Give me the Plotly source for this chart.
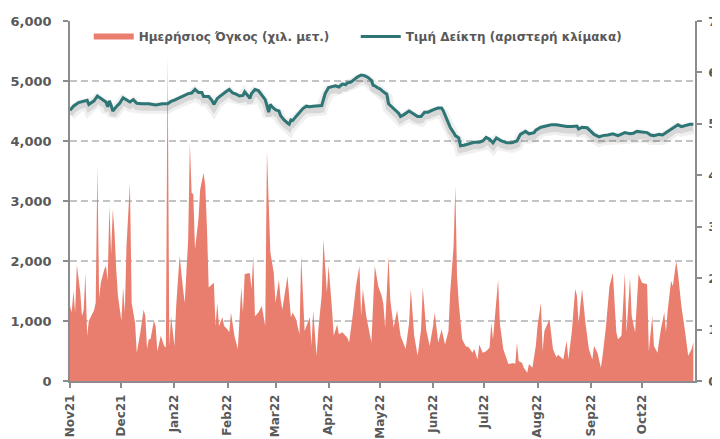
import pandas as pd
import plotly.graph_objects as go

START = "2021-11-01"

# Daily volume (right scale): day offset from START, value
vol_day = [0, 1, 2, 3, 4, 6, 7, 8, 9, 10, 11, 14, 15, 16, 17, 18, 20, 21, 22, 23, 24, 25, 26, 27, 28,
           30, 31, 32, 33, 35, 36, 38, 39, 41, 43, 44, 45, 46, 47, 49, 50, 51, 53, 55, 56, 57, 58, 59,
           61, 62, 64, 66, 67, 69, 70, 71, 72, 73, 75, 76, 78, 79, 80, 81, 83, 84, 85, 86, 87, 89, 90,
           92, 93, 94, 96, 98, 100, 101, 102, 105, 106, 107, 108, 110, 112, 114, 115, 117, 119, 120,
           122, 123, 124, 127, 129, 130, 132, 134, 135, 137, 140, 141, 142, 144, 145, 147, 148, 150,
           151, 153, 154, 156, 157, 159, 162, 163, 165, 167, 169, 170, 171, 173, 176, 178, 180, 182,
           183, 184, 186, 187, 189, 191, 193, 196, 198, 199, 201, 203, 205, 206, 208, 210, 212, 213,
           215, 217, 219, 221, 222, 224, 225, 226, 227, 229, 231, 233, 235, 236, 238, 239, 241, 243,
           245, 246, 247, 250, 251, 253, 256, 259, 260, 261, 262, 264, 265, 267, 268, 270, 272, 273,
           275, 276, 277, 280, 282, 284, 285, 288, 290, 291, 293, 295, 296, 297, 299, 301, 303, 305,
           306, 308, 310, 311, 313, 315, 317, 319, 320, 322, 324, 325, 327, 328, 330, 332, 334, 337,
           338, 340, 341, 343, 345, 347, 348, 349, 351, 352, 354, 355, 357, 359, 361, 363, 364]
vol_value = [1.46, 1.33, 1.75, 1.33, 2.26, 1.72, 1.26, 1.39, 2.10, 0.88, 1.17, 1.37, 1.52, 4.18, 1.62,
             1.91, 2.17, 2.24, 1.95, 3.41, 2.46, 3.34, 2.88, 2.17, 1.66, 1.17, 1.82, 1.33, 2.63, 3.85,
             1.52, 1.13, 0.55, 0.93, 1.39, 1.26, 0.62, 0.81, 0.81, 1.17, 1.07, 0.58, 0.88, 0.68, 0.65, 6.30,
             0.68, 1.26, 0.68, 1.46, 2.43, 1.79, 1.52, 2.75, 4.63, 3.66, 3.63, 2.56, 3.14, 3.72, 4.05,
             3.79, 2.95, 1.82, 1.88, 1.91, 1.07, 1.52, 1.07, 1.24, 1.07, 1.00, 0.95, 1.33, 0.88, 0.62,
             1.82, 1.33, 2.08, 2.10, 1.79, 2.43, 1.26, 1.33, 1.46, 1.07, 4.47, 2.50, 2.10, 1.52, 1.97,
             1.59, 1.39, 2.04, 1.24, 1.33, 1.20, 0.91, 2.43, 0.97, 1.24, 0.68, 1.37, 0.49, 1.00, 1.68,
             2.75, 1.72, 2.24, 1.39, 0.88, 1.10, 0.91, 0.95, 0.84, 0.75, 1.26, 1.84, 2.24, 1.26, 1.79, 1.26,
             0.75, 2.24, 1.84, 1.66, 1.49, 1.04, 2.43, 1.59, 1.04, 1.37, 0.88, 0.62, 1.13, 1.79, 0.88, 0.49,
             1.00, 1.82, 1.00, 0.68, 1.07, 1.33, 0.75, 1.00, 0.71, 0.97, 1.72, 2.63, 3.79, 2.04, 1.52, 0.81,
             0.68, 0.65, 0.55, 0.62, 0.42, 0.71, 0.55, 0.58, 0.65, 1.13, 0.81, 1.97, 1.13, 0.62, 0.33, 0.35, 0.33,
             0.75, 0.39, 0.35, 0.26, 0.16, 0.33, 0.26, 0.68, 1.07, 1.52, 0.58, 0.97, 1.20, 0.62, 0.46, 0.51, 0.42,
             0.78, 0.42, 0.95, 1.79, 1.66, 1.13, 1.79, 1.13, 0.62, 0.42, 0.68, 0.55, 0.26, 0.49, 1.07, 1.84,
             2.10, 0.95, 0.81, 0.88, 2.10, 0.95, 2.01, 1.26, 0.95, 2.08, 1.91, 1.88, 0.58, 1.26, 0.68, 0.55,
             1.00, 1.33, 0.95, 1.37, 1.95, 1.84, 2.33, 2.10, 1.46, 1.00, 0.49, 0.62, 0.75]

# Index value (left scale)
idx_day = [0, 2, 5, 8, 10, 11, 12, 14, 16, 19, 21, 22, 23, 24, 25, 27, 29, 31, 33, 35, 37, 39, 42, 46,
           50, 54, 57, 59, 61, 63, 66, 69, 71, 73, 75, 77, 78, 81, 83, 84, 86, 88, 91, 93, 95, 97, 99,
           101, 102, 104, 105, 106, 108, 110, 112, 114, 115, 116, 117, 118, 120, 122, 123, 125, 127,
           128, 129, 130, 132, 134, 136, 138, 140, 142, 145, 147, 148, 149, 151, 153, 155, 157, 159,
           161, 162, 164, 166, 168, 170, 172, 174, 176, 177, 178, 180, 181, 183, 185, 186, 188, 190,
           192, 193, 195, 198, 201, 203, 205, 207, 209, 211, 213, 215, 217, 218, 220, 222, 224, 225,
           227, 228, 230, 233, 236, 239, 241, 243, 245, 247, 249, 252, 255, 258, 261, 263, 266, 268,
           271, 272, 275, 278, 281, 284, 287, 290, 293, 296, 297, 299, 302, 304, 306, 309, 311, 314,
           317, 320, 322, 324, 327, 329, 331, 334, 337, 339, 341, 344, 346, 349, 351, 353, 355, 357,
           360, 362, 364]
idx_value = [4510, 4580, 4640, 4670, 4680, 4610, 4630, 4670, 4750, 4690, 4650, 4570, 4670, 4590, 4500,
             4570, 4630, 4720, 4680, 4650, 4690, 4630, 4620, 4620, 4600, 4620, 4620, 4660, 4680, 4710,
             4750, 4790, 4800, 4860, 4810, 4810, 4740, 4740, 4670, 4610, 4710, 4760, 4820, 4860, 4800,
             4780, 4750, 4760, 4820, 4750, 4710, 4790, 4860, 4840, 4760, 4690, 4590, 4480, 4610, 4570,
             4520, 4500, 4420, 4350, 4300, 4280, 4350, 4340, 4410, 4480, 4540, 4580, 4570, 4580, 4580,
             4590, 4690, 4790, 4890, 4900, 4920, 4900, 4950, 4940, 4970, 4980, 5030, 5070, 5100, 5090,
             5060, 5010, 4930, 4920, 4880, 4870, 4820, 4780, 4620, 4570, 4520, 4460, 4410, 4440, 4500,
             4440, 4410, 4410, 4480, 4480, 4510, 4530, 4550, 4550, 4500, 4370, 4230, 4140, 4090, 4050,
             3920, 3930, 3960, 3980, 3980, 4000, 4060, 4030, 3970, 4050, 4000, 3970, 3970, 4000, 4110,
             4160, 4120, 4140, 4180, 4230, 4250, 4270, 4270, 4250, 4240, 4240, 4250, 4200, 4230, 4220,
             4160, 4110, 4070, 4090, 4100, 4120, 4090, 4110, 4140, 4120, 4130, 4160, 4150, 4140, 4100,
             4090, 4110, 4100, 4160, 4200, 4240, 4270, 4240, 4270, 4280, 4280]

vol_name = "Ημερήσιος Όγκος (χιλ. μετ.)"
idx_name = "Τιμή Δείκτη (αριστερή κλίμακα)"

start = pd.Timestamp(START)
vol_dates = start + pd.to_timedelta(vol_day, unit="D")
idx_dates = start + pd.to_timedelta(idx_day, unit="D")

GREY = "#595959"
AXIS = "#8C8C8C"
TICKFONT = dict(family="DejaVu Sans", size=13, color=GREY, weight="bold")
XTICKFONT = dict(family="DejaVu Sans", size=12, color=GREY, weight="bold")

fig = go.Figure()
fig.add_trace(go.Scatter(x=vol_dates, y=vol_value, name=vol_name, mode="none",
                         fill="tozeroy", fillcolor="#E97E6E", yaxis="y"))
# soft drop shadow under the index line
fig.add_trace(go.Scatter(x=idx_dates, y=idx_value, mode="lines", showlegend=False,
                         hoverinfo="skip", line=dict(color="rgba(0,0,0,0.06)", width=12),
                         yaxis="y2"))
fig.add_trace(go.Scatter(x=idx_dates, y=idx_value, mode="lines", showlegend=False,
                         hoverinfo="skip", line=dict(color="rgba(0,0,0,0.10)", width=6),
                         yaxis="y2"))
fig.add_trace(go.Scatter(x=idx_dates, y=idx_value, name=idx_name, mode="lines",
                         line=dict(color="#2E7576", width=3), yaxis="y3"))

fig.update_layout(
    width=720, height=439,
    margin=dict(l=62, r=33, t=13, b=66, autoexpand=False),
    paper_bgcolor="white", plot_bgcolor="white",
    showlegend=True,
    legend=dict(orientation="h", x=0.03, xanchor="left", y=0.997, yanchor="top",
                font=dict(family="DejaVu Sans", size=12, color=GREY, weight="bold"),
                bgcolor="rgba(255,255,255,0)", itemwidth=40,
                entrywidth=212, entrywidthmode="pixels"),
    xaxis=dict(type="date", range=["2021-11-01", "2022-10-31 23:00"], dtick="M1",
               tick0="2021-11-01", tickformat="%b%y", tickangle=-90, automargin=False,
               showgrid=False, showline=True, linecolor=AXIS, linewidth=1.5,
               ticks="outside", ticklen=5, tickcolor=AXIS, tickwidth=1.5,
               tickfont=XTICKFONT, ticklabelstandoff=2),
    yaxis=dict(side="right", range=[0, 7], dtick=1, automargin=False,
               showgrid=False, zeroline=False, showline=True, linecolor=AXIS,
               linewidth=1.5, ticks="outside", ticklen=5, tickcolor=AXIS,
               tickwidth=1.5, tickfont=TICKFONT, ticklabelstandoff=4),
    yaxis2=dict(overlaying="y", range=[67, 6067], visible=False, automargin=False),
    yaxis3=dict(overlaying="y", side="left", range=[0, 6000], dtick=1000, automargin=False,
                tickformat=",", showgrid=True, gridcolor="#C4C4C4", gridwidth=1.5,
                griddash="7px,4px", zeroline=False, showline=True, linecolor=AXIS,
                linewidth=1.5, ticks="outside", ticklen=5, tickcolor=AXIS,
                tickwidth=1.5, tickfont=TICKFONT, ticklabelstandoff=9),
)

fig.write_html("out.html")
